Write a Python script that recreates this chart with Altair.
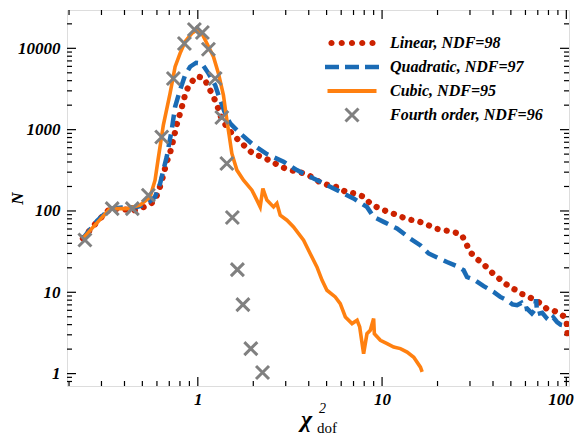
import altair as alt
import pandas as pd

series_names = ["Linear, NDF=98", "Quadratic, NDF=97", "Cubic, NDF=95", "Fourth order, NDF=96"]
colors = ["#cc2200", "#1a6bb5", "#ff8010", "#808080"]

linear_x = [0.238, 0.283, 0.334, 0.388, 0.456, 0.539, 0.586, 0.632, 0.678, 0.707, 0.728, 0.753, 0.772, 0.801,
            0.829, 0.861, 0.908, 0.988, 1.082, 1.142, 1.216, 1.278, 1.322, 1.39, 1.53, 1.677, 2.005, 2.273, 2.535,
            2.836, 3.175, 3.565, 4.04, 4.58, 5.11, 5.75, 6.40, 7.16, 7.97, 8.64, 9.67, 10.86, 12.16, 13.73, 15.55,
            17.41, 19.5, 21.8, 24.3, 27.0, 28.6, 30.2, 33.1, 36.0, 39.1, 42.5, 46.2, 49.4, 52.6, 56.5, 60.1, 65.3,
            69.5, 78.1, 85.0, 91.2, 97.0, 100.4, 101.3, 101.8]
linear_y = [46, 73, 107, 105, 102, 117, 135, 217, 401, 517, 674, 937, 1199, 1578, 2094, 2909, 3690, 4539, 4290,
            3350, 2539, 1941, 1504, 1209, 895, 727, 498, 457, 401, 348, 317, 302, 271, 227, 207, 196, 170, 164, 149,
            123, 107, 97, 88.5, 79, 75.4, 68.6, 60.7, 57.9, 55.2, 51.3, 39.7, 30.8, 25.2, 21.5, 17.8, 15.2, 13.0,
            11.6, 10.8, 9.64, 9.19, 8.37, 7.82, 6.30, 6.0, 5.47, 5.07, 4.27, 3.22, 2.43]

quad_x = [0.238, 0.283, 0.334, 0.388, 0.466, 0.528, 0.586, 0.624, 0.650, 0.678, 0.722, 0.753, 0.801, 0.853, 0.908,
          0.979, 1.051, 1.142, 1.242, 1.322, 1.406, 1.498, 1.698, 2.005, 2.37, 2.92, 3.45, 4.25, 5.02, 5.93, 7.0,
          8.28, 9.0, 10.2, 12.05, 14.2, 16.1, 17.9, 19.9, 22.5, 25.5, 27.7, 28.9, 31.4, 35.6, 40.3, 43.8, 47.6,
          51.0, 54.0, 57.0, 59.0, 61.2, 65.0, 67.5, 68.5, 69.5, 74.0, 78.6, 82.0, 85.0, 89.1, 93.0, 96.7, 101.0]
quad_y = [46, 75, 106, 110, 112, 121, 149, 217, 318, 463, 1000, 1910, 3069, 4690, 5940, 6650, 6530, 4920, 3530,
          2311, 1585, 1195, 899, 646, 500, 402, 318, 251, 208, 172, 142.6, 112, 84.5, 73.4, 60.9, 45.9, 38, 30,
          26.8, 23.6, 20.9, 18.7, 15.4, 14.4, 11.9, 10.1, 8.77, 7.98, 7.1, 6.93, 7.4, 6.2, 6.31, 5.5, 6.1, 8.2,
          5.4, 5.6, 4.75, 4.4, 4.9, 4.31, 4.0, 3.93, 3.6]

cub_x = [0.238, 0.271, 0.334, 0.411, 0.486, 0.551, 0.586, 0.608, 0.650, 0.707, 0.753, 0.801, 0.853, 0.928, 0.988,
         1.051, 1.119, 1.216, 1.294, 1.377, 1.437, 1.479, 1.53, 1.629, 1.77, 1.966, 2.093, 2.18, 2.255, 2.37, 2.576,
         2.686, 2.8, 3.046, 3.307, 3.75, 4.07, 4.43, 4.72, 5.02, 5.57, 5.93, 6.32, 6.87, 7.32, 7.56, 7.94, 8.28,
         8.63, 9.0, 9.08, 9.79, 10.65, 11.56, 12.57, 13.67, 14.86, 16.15, 16.5]
cub_y = [46, 63.7, 107, 107, 118, 149, 239, 422, 1138, 2793, 5940, 8680, 12060, 15300, 16800, 15300, 11530, 7890,
         4920, 2660, 1312, 857, 510, 318, 239, 180, 136, 112, 189, 136, 112, 124, 88.8, 77, 63.7, 43.7, 30, 20.5,
         14.1, 10.6, 8.77, 7.27, 4.98, 4.12, 4.53, 3.75, 1.76, 3.1, 3.41, 4.75, 3.1, 2.57, 2.34, 2.12, 2.03, 1.84,
         1.59, 1.2, 1.05]

four_x = [0.244, 0.343, 0.441, 0.539, 0.637, 0.737, 0.846, 0.958, 1.059, 1.142, 1.242, 1.35, 1.437, 1.54, 1.64,
          1.757, 1.94, 2.245]
four_y = [44, 107, 107, 156, 813, 4250, 11460, 17030, 15640, 9750, 4250, 1408, 383, 83, 19, 7.06, 2.03, 1.03]

x_major = [1, 10, 100]
x_minor = [0.2, 0.3, 0.4, 0.5, 0.6, 0.7, 0.8, 0.9, 2, 3, 4, 5, 6, 7, 8, 9, 20, 30, 40, 50, 60, 70, 80, 90]
y_major = [1, 10, 100, 1000, 10000]
y_minor = [0.8, 0.9, 2, 3, 4, 5, 6, 7, 8, 9, 20, 30, 40, 50, 60, 70, 80, 90, 200, 300, 400, 500, 600, 700, 800,
           900, 2000, 3000, 4000, 5000, 6000, 7000, 8000, 9000, 20000]

W, H = 502, 376
FONT = "Liberation Serif, Times New Roman, Times, DejaVu Serif, serif"


def circle(cx, r):
    return f"M {cx - r} 0 A {r} {r} 0 1 0 {cx + r} 0 A {r} {r} 0 1 0 {cx - r} 0 Z"


def rect(x0, x1, h):
    return f"M {x0} {-h} L {x1} {-h} L {x1} {h} L {x0} {h} Z"


dots_path = " ".join(circle(c, 0.62) for c in [-4.1, -2.05, 0, 2.05, 4.1])
dash_path = " ".join(rect(a, b, 0.45) for a, b in [(-5.4, -2.6), (-1.4, 1.4), (2.6, 5.4)])
solid_path = rect(-4.9, 4.9, 0.42)
cross_path = ("M -1.088 -1.512 L 1.512 1.088 L 1.088 1.512 L -1.512 -1.088 Z "
              "M -1.512 1.088 L 1.088 -1.512 L 1.512 -1.088 L -1.088 1.512 Z")
shapes = [dots_path, dash_path, solid_path, cross_path]

xs = alt.Scale(type="log", domain=[0.195, 103.4], nice=False)
ys = alt.Scale(type="log", domain=[0.704, 29600], nice=False)

xaxis = alt.Axis(values=x_major, format="d", ticks=False, tickSize=0, domain=False, grid=False, title=None,
                 labelPadding=5, labelFont=FONT, labelFontSize=17, labelFontStyle="italic",
                 labelFontWeight="bold", labelColor="black", labelFlush=5, labelFlushOffset=7)
yaxis = alt.Axis(values=y_major, format="d", ticks=False, tickSize=0, domain=False, grid=False, title="N",
                 labelPadding=7, labelFont=FONT, labelFontSize=17, labelFontStyle="italic",
                 labelFontWeight="bold", labelColor="black", titleFont=FONT, titleFontSize=17,
                 titleFontStyle="italic", titleFontWeight="bold", titleColor="black", titleX=-45,
                 titleBaseline="alphabetic")


def frame(xv, yv, name):
    return pd.DataFrame({"x": xv, "y": yv, "series": name})


X = alt.X("x:Q", scale=xs, axis=xaxis)
Y = alt.Y("y:Q", scale=ys, axis=yaxis)

lin = alt.Chart(frame(linear_x, linear_y, series_names[0])).mark_line(
    color=colors[0], strokeWidth=6.2, strokeDash=[0.1, 9.2], strokeCap="round", clip=True
).encode(x=X, y=Y)
quad = alt.Chart(frame(quad_x, quad_y, series_names[1])).mark_line(
    color=colors[1], strokeWidth=4.5, strokeDash=[13, 7], clip=True
).encode(x=X, y=Y)
cub = alt.Chart(frame(cub_x, cub_y, series_names[2])).mark_line(
    color=colors[2], strokeWidth=3.6, clip=True
).encode(x=X, y=Y)

leg = alt.Legend(title=None, orient="none", legendX=277, legendY=25, labelFont=FONT, labelFontSize=16,
                 labelFontStyle="italic", labelFontWeight="bold", labelColor="black", symbolSize=100,
                 symbolStrokeWidth=0, labelOffset=30, rowPadding=8, padding=0, symbolOpacity=1)

four = alt.Chart(frame(four_x, four_y, series_names[3])).mark_point(
    filled=True, size=100, opacity=1
).encode(
    x=X, y=Y,
    color=alt.Color("series:N", scale=alt.Scale(domain=series_names, range=colors), legend=leg),
    shape=alt.Shape("series:N", scale=alt.Scale(domain=series_names, range=shapes), legend=leg),
)


def xtick_layers(vals, length):
    d = pd.DataFrame({"v": vals})
    xe = alt.X("v:Q", scale=xs, axis=xaxis)
    bottom = alt.Chart(d).mark_rule(color="black", strokeWidth=1.2).encode(
        x=xe, y=alt.value(H), y2=alt.value(H - length))
    top = alt.Chart(d).mark_rule(color="black", strokeWidth=1.2).encode(
        x=xe, y=alt.value(0), y2=alt.value(length))
    return [bottom, top]


def ytick_layers(vals, length):
    d = pd.DataFrame({"v": vals})
    ye = alt.Y("v:Q", scale=ys, axis=yaxis)
    left = alt.Chart(d).mark_rule(color="black", strokeWidth=1.2).encode(
        y=ye, x=alt.value(0), x2=alt.value(length))
    right = alt.Chart(d).mark_rule(color="black", strokeWidth=1.2).encode(
        y=ye, x=alt.value(W), x2=alt.value(W - length))
    return [left, right]


def label(s, x, y, size, style, weight):
    return alt.Chart(pd.DataFrame({"t": [s]})).mark_text(
        align="left", baseline="alphabetic", font=FONT, fontSize=size, fontStyle=style,
        fontWeight=weight, color="black"
    ).encode(x=alt.value(x), y=alt.value(y), text="t:N")


title_parts = [
    label("χ", 234, 417, 24, "italic", "bold"),
    label("2", 252, 403, 14, "italic", "normal"),
    label("dof", 250, 423, 15, "normal", "normal"),
]

layers = (xtick_layers(x_major, 9) + xtick_layers(x_minor, 5) + ytick_layers(y_major, 9)
          + ytick_layers(y_minor, 5) + [lin, quad, cub, four] + title_parts)

chart = alt.layer(*layers).properties(
    width=W, height=H,
    padding={"left": 59, "top": 2, "right": 5, "bottom": 52},
    autosize=alt.AutoSizeParams(type="none"),
).configure_view(stroke="#1a1a1a", strokeWidth=2).configure(background="white")

chart.save("out.html", embed_options={"renderer": "svg", "actions": False})
